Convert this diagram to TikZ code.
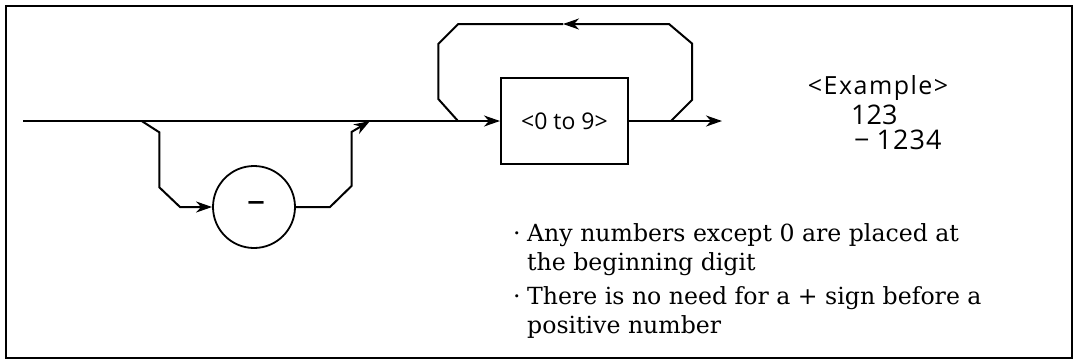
\documentclass[tikz,border=0pt]{standalone}
\usepackage{fontspec}
\setmainfont{DejaVu Serif}
\newfontfamily\sansf{Open Sans}
\usetikzlibrary{arrows.meta}
\newcommand{\notefont}{\fontsize{23.6}{28}\selectfont}
\newcommand{\exfont}{\sansf\fontsize{25}{28}\selectfont\addfontfeature{LetterSpace=6}}
\newcommand{\numfont}{\sansf\fontsize{27}{30}\selectfont}
\newcommand{\boxfont}{\sansf\fontsize{23}{26}\selectfont}
\begin{document}
\begin{tikzpicture}[x=1pt,y=-1pt,
  >={Stealth[length=16pt,width=11pt,inset=5pt]},
  rail/.style={draw, line width=2pt, line join=miter},
  boxnode/.style={draw, rectangle, line width=2pt, minimum width=127pt, minimum height=86pt, inner sep=0pt, font=\boxfont},
  circnode/.style={draw, circle, line width=1.8pt, minimum size=82pt, inner sep=0pt},
  note/.style={anchor=base west, inner sep=0pt, font=\notefont},
  extext/.style={inner sep=0pt}]
\useasboundingbox (0,0) rectangle (1076,360);
\draw[line width=2pt] (6,6) rectangle (1072,358);
% nodes
\node[boxnode] (digit) at (564.5,121) {<0 to 9>};
\node[circnode] (minus) at (254,207) {\sansf\fontsize{36}{36}\selectfont\hspace{4pt}\raisebox{1pt}{–}};
\coordinate (start) at (23,121);
\coordinate (ls) at (141.7,121);
\coordinate (lj) at (370,121);
\coordinate (uj) at (458,121);
\coordinate (us) at (671,121);
\coordinate (endpt) at (722,121);
\coordinate (topmid) at (563,24);
% main line
\draw[rail,->] (start) -- (digit.west);
% lower branch
\draw[rail,->] (ls) -- (159.3,132.3) -- (159.3,187.3) -- (180,207) -- (minus.west);
\draw[rail,->] (minus.east) -- (330,207) -- (351.5,186) -- (351.5,132) -- (lj);
% output
\draw[rail,->] (digit.east) -- (endpt);
% repeat loop
\draw[rail,->] (us) -- (692,100) -- (692,43.5) -- (669,24) -- (topmid);
\draw[rail] (topmid) -- (458.3,24) -- (438.3,44) -- (438.3,99) -- (uj);
% example
\node[extext, font=\exfont] (exhead) at (878,88) {<Example>};
\node[extext, font=\numfont, anchor=west] (ex1) at (851,115) {123};
\node[extext, font=\numfont, anchor=west] (ex2) at (854,140) {−\hspace{7pt}{\addfontfeature{LetterSpace=4}1234}};
% notes
\node[note] (n1) at (513,241) {\makebox[14pt][l]{·}Any numbers except 0 are placed at};
\node[note] (n2) at (527,270) {the beginning digit};
\node[note] (n3) at (513,304) {\makebox[14pt][l]{·}There is no need for a + sign before a};
\node[note] (n4) at (527,333) {positive number};
\end{tikzpicture}
\end{document}
